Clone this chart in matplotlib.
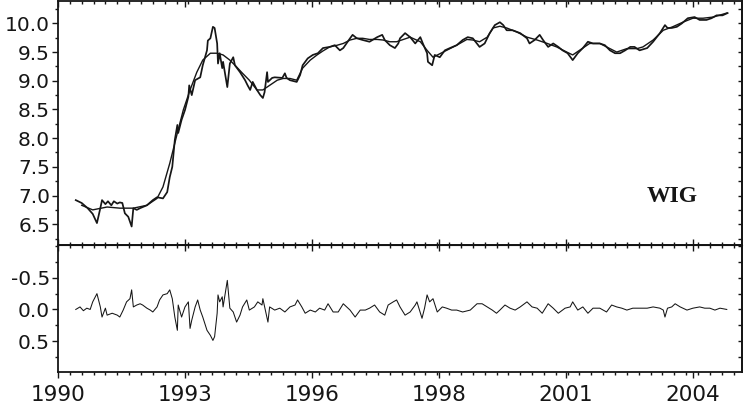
import numpy as np
import matplotlib.pyplot as plt
from matplotlib.ticker import MultipleLocator, FixedLocator, FormatStrFormatter, NullFormatter

plt.rcParams['font.family'] = 'DejaVu Sans'
plt.rcParams['axes.unicode_minus'] = False

# ---- DATA (week index, log level) ----
year_pos = [0, 150, 300, 450, 600, 750]
year_lbl = ['1990', '1993', '1996', '1998', '2001', '2004']

raw_t = [21, 28, 35, 41, 46, 50, 52, 56, 59, 63, 66, 70, 73, 76, 79, 83, 87, 89, 93, 97,
         105, 112, 117, 124, 129, 132, 135, 138, 141, 142, 146, 150, 154, 155, 158, 162, 168, 171, 176, 177,
         180, 183, 185, 188, 189, 191, 194, 195, 200, 203, 207, 209, 215, 221, 224, 227, 230, 235, 239, 242,
         244, 247, 248, 253, 256, 265, 268, 270, 274, 282, 286, 289, 295, 301, 307, 313, 321, 327, 333, 337,
         345, 348, 353, 360, 368, 377, 383, 386, 392, 398, 402, 404, 410, 416, 422, 428, 431, 436, 437, 442,
         445, 451, 457, 463, 471, 478, 484, 490, 498, 504, 510, 516, 522, 526, 530, 537, 546, 554, 557, 563,
         569, 573, 579, 585, 591, 596, 602, 608, 614, 620, 626, 632, 640, 646, 652, 658, 664, 670, 676, 681,
         687, 696, 703, 711, 717, 720, 725, 731, 737, 744, 752, 758, 766, 772, 778, 785, 791]
raw_v = [6.92, 6.87, 6.78, 6.68, 6.52, 6.78, 6.92, 6.85, 6.90, 6.83, 6.90, 6.86, 6.88, 6.87, 6.69, 6.63, 6.46, 6.78, 6.75, 6.78,
         6.83, 6.92, 6.97, 6.95, 7.06, 7.32, 7.50, 7.97, 8.23, 8.09, 8.32, 8.49, 8.72, 8.92, 8.75, 9.01, 9.06, 9.27, 9.53, 9.70,
         9.74, 9.94, 9.92, 9.65, 9.30, 9.48, 9.22, 9.33, 8.89, 9.30, 9.41, 9.27, 9.15, 9.01, 8.92, 8.84, 8.98, 8.84, 8.75, 8.70,
         8.80, 9.15, 8.98, 9.05, 9.06, 9.05, 9.13, 9.05, 9.01, 8.98, 9.10, 9.27, 9.39, 9.45, 9.48, 9.57, 9.59, 9.62, 9.53, 9.57,
         9.74, 9.80, 9.74, 9.71, 9.68, 9.76, 9.80, 9.71, 9.62, 9.57, 9.65, 9.74, 9.83, 9.76, 9.65, 9.76, 9.65, 9.48, 9.33, 9.27,
         9.45, 9.41, 9.53, 9.57, 9.62, 9.71, 9.76, 9.74, 9.59, 9.65, 9.83, 9.97, 10.02, 9.97, 9.88, 9.88, 9.83, 9.74, 9.65, 9.71,
         9.80, 9.71, 9.59, 9.65, 9.59, 9.53, 9.48, 9.36, 9.48, 9.57, 9.68, 9.65, 9.65, 9.62, 9.53, 9.48, 9.48, 9.53, 9.59, 9.59,
         9.53, 9.57, 9.68, 9.83, 9.97, 9.92, 9.92, 9.94, 10.00, 10.09, 10.11, 10.06, 10.06, 10.09, 10.14, 10.14, 10.18]

trend_t = [28, 41, 58, 73, 89, 105, 117, 124, 132, 141, 148, 156, 164, 171, 180, 188, 195, 203, 211, 218,
           226, 235, 242, 250, 259, 266, 274, 282, 289, 298, 306, 313, 321, 330, 337, 345, 353, 360, 368, 377,
           384, 392, 400, 416, 428, 436, 443, 451, 459, 471, 483, 490, 498, 507, 514, 522, 530, 542, 554, 566,
           578, 589, 601, 608, 616, 628, 640, 648, 660, 672, 684, 691, 703, 715, 726, 738, 750, 762, 774, 790]
trend_v = [6.83, 6.75, 6.80, 6.78, 6.78, 6.83, 6.95, 7.15, 7.56, 8.09, 8.49, 8.84, 9.15, 9.36, 9.48, 9.48, 9.45, 9.36, 9.24, 9.13,
           9.01, 8.84, 8.84, 8.92, 9.01, 9.04, 9.04, 9.01, 9.22, 9.36, 9.45, 9.52, 9.59, 9.62, 9.65, 9.71, 9.74, 9.74, 9.72, 9.72,
           9.71, 9.68, 9.68, 9.76, 9.68, 9.53, 9.41, 9.47, 9.53, 9.62, 9.72, 9.71, 9.68, 9.76, 9.92, 9.95, 9.92, 9.85, 9.76, 9.71,
           9.65, 9.59, 9.50, 9.45, 9.53, 9.65, 9.65, 9.59, 9.50, 9.56, 9.56, 9.59, 9.71, 9.88, 9.94, 10.02, 10.09, 10.09, 10.11, 10.18]

cyc_t = [21, 26, 30, 34, 38, 41, 46, 50, 52, 56, 58, 64, 70, 73, 77, 81, 85, 87, 89, 93,
         97, 100, 105, 109, 112, 117, 120, 124, 129, 132, 135, 138, 141, 142, 146, 150, 154, 156, 158, 162,
         165, 168, 171, 176, 180, 183, 185, 188, 189, 191, 194, 195, 200, 203, 207, 211, 215, 218, 223, 226,
         232, 236, 241, 242, 247, 248, 250, 256, 262, 268, 274, 280, 283, 288, 292, 298, 304, 309, 315, 319,
         325, 331, 337, 341, 345, 351, 357, 363, 368, 374, 380, 386, 390, 396, 400, 404, 410, 416, 422, 424,
         430, 433, 436, 439, 443, 448, 454, 459, 465, 471, 478, 487, 495, 501, 507, 513, 518, 522, 528, 534,
         540, 546, 554, 560, 566, 572, 579, 585, 591, 599, 605, 608, 614, 620, 626, 632, 640, 648, 654, 660,
         666, 672, 679, 687, 696, 703, 711, 715, 717, 720, 725, 729, 735, 743, 750, 758, 764, 770, 776, 782, 790]
cyc_v = [0.00, -0.04, 0.02, -0.02, 0.00, -0.12, -0.25, -0.04, 0.12, -0.02, 0.09, 0.06, 0.09, 0.12, 0.01, -0.12, -0.17, -0.31, -0.04, -0.07,
         -0.09, -0.07, -0.02, 0.01, 0.04, -0.04, -0.15, -0.23, -0.25, -0.31, -0.17, 0.12, 0.33, -0.07, 0.12, -0.04, -0.12, 0.30, 0.17, -0.04,
         -0.15, 0.01, 0.12, 0.33, 0.41, 0.49, 0.43, 0.06, -0.23, -0.12, -0.20, -0.04, -0.46, -0.02, 0.04, 0.20, 0.09, -0.04, -0.15, 0.01,
         -0.04, -0.12, -0.07, -0.17, 0.14, 0.20, -0.04, 0.01, -0.02, 0.04, -0.04, -0.07, -0.15, -0.04, 0.06, 0.01, 0.04, -0.02, 0.01, -0.09,
         0.04, 0.04, -0.09, -0.04, 0.01, 0.12, 0.01, 0.01, -0.02, -0.07, 0.04, 0.09, -0.07, -0.12, -0.15, -0.04, 0.09, 0.04, -0.07, -0.12,
         0.14, -0.02, -0.23, -0.12, -0.17, 0.04, -0.04, -0.02, 0.01, 0.01, 0.04, 0.01, -0.09, -0.09, -0.04, 0.01, 0.06, 0.01, -0.07, -0.02,
         0.01, -0.04, -0.12, -0.04, -0.02, 0.06, -0.09, -0.02, 0.06, -0.02, -0.04, -0.12, 0.01, -0.04, 0.06, -0.02, -0.02, 0.04, -0.07, -0.04,
         -0.02, 0.01, -0.02, -0.02, -0.02, -0.04, -0.02, 0.01, 0.12, -0.02, -0.04, -0.09, -0.04, 0.01, -0.02, -0.04, -0.02, -0.02, 0.01, -0.02, 0.00]

ink = '#161616'

# ---- FIGURE ----
fig = plt.figure(figsize=(7.46, 4.07), dpi=100)
ax1 = fig.add_axes([58 / 746, 1 - 245 / 407, 684 / 746, 244 / 407])
ax2 = fig.add_axes([58 / 746, 1 - 372 / 407, 684 / 746, 127 / 407], sharex=ax1)

ax1.plot(raw_t, raw_v, color=ink, lw=1.25)
ax1.plot(trend_t, trend_v, color=ink, lw=1.0)
ax1.text(0.898, 0.20, 'WIG', transform=ax1.transAxes, ha='center', va='center',
         family='Liberation Serif', weight='bold', fontsize=17, color=ink)

ax2.plot(cyc_t, cyc_v, color=ink, lw=0.75)

ax1.set_xlim(0, 808)
ax1.set_ylim(6.138, 10.39)
ax2.set_ylim(0.99, -1.02)

for ax in (ax1, ax2):
    for s in ax.spines.values():
        s.set_linewidth(1.3)
        s.set_color(ink)
    ax.xaxis.set_major_locator(FixedLocator(year_pos))
    ax.xaxis.set_minor_locator(MultipleLocator(14))
    ax.yaxis.set_minor_locator(MultipleLocator(0.25))
    ax.tick_params(which='major', length=4.2, width=1.0, color=ink)
    ax.tick_params(which='minor', length=2.4, width=1.0, color=ink)
    ax.tick_params(axis='y', which='both', direction='out', labelsize=14.5, pad=1.5, labelcolor=ink)
    ry = ax.secondary_yaxis('right')
    ry.yaxis.set_major_locator(ax.yaxis.get_major_locator())
    ry.yaxis.set_minor_locator(MultipleLocator(0.25))
    ry.yaxis.set_major_formatter(NullFormatter())
    ry.tick_params(which='both', direction='in', length=2.6, width=1.0, color=ink)
    ry.spines['right'].set_linewidth(1.3)

ax1.yaxis.set_major_locator(FixedLocator([6.5, 7.0, 7.5, 8.0, 8.5, 9.0, 9.5, 10.0]))
ax1.yaxis.set_major_formatter(FormatStrFormatter('%.1f'))
ax2.yaxis.set_major_locator(FixedLocator([-0.5, 0.0, 0.5]))
ax2.yaxis.set_major_formatter(FormatStrFormatter('%.1f'))

ax1.tick_params(axis='x', which='both', direction='in', top=True, bottom=True, labelbottom=False)
ax2.tick_params(axis='x', which='both', direction='out', labelsize=15.5, pad=5, labelcolor=ink)
ax2.set_xticklabels(year_lbl)

tx = ax2.secondary_xaxis('top')
tx.xaxis.set_major_locator(FixedLocator(year_pos))
tx.xaxis.set_minor_locator(MultipleLocator(14))
tx.xaxis.set_major_formatter(NullFormatter())
tx.tick_params(which='major', direction='in', length=4.2, width=1.0, color=ink)
tx.tick_params(which='minor', direction='in', length=2.4, width=1.0, color=ink)

fig.savefig('out.png', dpi=100)
